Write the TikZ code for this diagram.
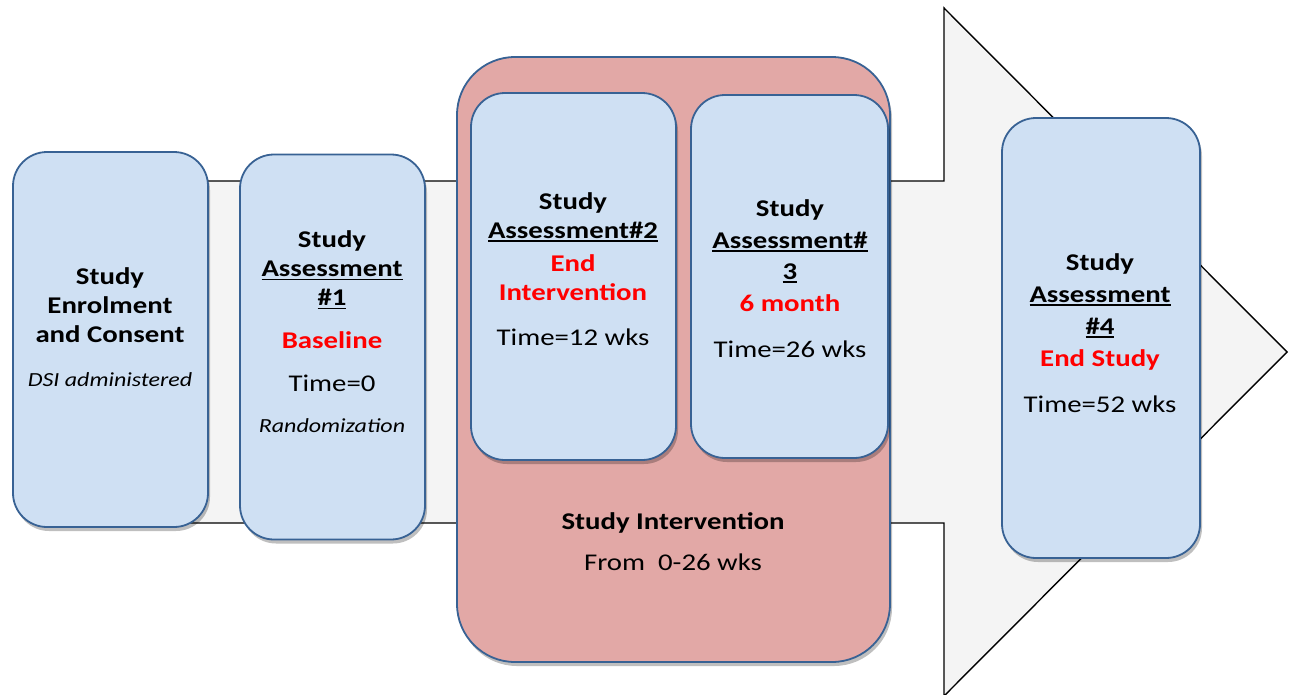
\documentclass[tikz,border=0pt]{standalone}
\usepackage{fontspec}
\setmainfont[FakeStretch=1.2]{Carlito}
\usetikzlibrary{shadows}
\definecolor{cardblue}{RGB}{207,224,243}
\definecolor{cardedge}{RGB}{56,98,148}
\definecolor{interpink}{RGB}{226,168,166}
\definecolor{arrowgrey}{RGB}{244,244,244}
\definecolor{alertred}{RGB}{255,0,0}
\newcommand{\hl}[1]{\textcolor{alertred}{\textbf{#1}}}
\newcommand{\ulbar}[1]{\setbox0\hbox{#1}\rlap{\raisebox{-3.5pt}{\rule{\wd0}{1.6pt}}}\box0}

\begin{document}
\begin{tikzpicture}[
  x=1pt, y=1pt,
  card/.style={rectangle, rounded corners=34pt, draw=cardedge, line width=1.8pt,
    fill=cardblue, inner sep=0pt,
    drop shadow={shadow xshift=2pt, shadow yshift=-4pt, opacity=0.25, fill=black}},
  phase/.style={card, rounded corners=58pt, fill=interpink},
  label/.style={align=center, inner sep=0pt, font=\fontsize{24}{29}\selectfont}
]
\useasboundingbox (0,0) rectangle (1292,-694);

% timeline arrow
\draw[fill=arrowgrey, line width=1.4pt, line join=miter]
  (100,-181) -- (944,-181) -- (944,-8) -- (1287,-352) -- (944,-696)
  -- (944,-523) -- (100,-523) -- cycle;

\node[card, minimum width=195pt, minimum height=375pt] (enrol) at (110.5,-339.5) {};
\node[card, minimum width=185pt, minimum height=385pt] (assess1) at (332.5,-347) {};
\node[phase, minimum width=433pt, minimum height=605pt] (interv) at (673.5,-359.5) {};
\node[card, minimum width=205pt, minimum height=367pt] (assess2) at (573.5,-276.5) {};
\node[card, minimum width=197pt, minimum height=363pt] (assess3) at (789.5,-276.5) {};
\node[card, minimum width=198pt, minimum height=440pt] (assess4) at (1101,-338) {};

\node[label] (enroltxt) at (110,-327) {\textbf{Study}\\ \textbf{Enrolment}\\ \textbf{and Consent}\\[15pt]
  {\fontsize{20}{29}\selectfont\itshape DSI administered}};
\node[label] (assess1txt) at (332,-332) {\textbf{Study}\\ \ulbar{\textbf{Assessment}}\\ \ulbar{\textbf{\#1}}\\[14pt]
  \hl{Baseline}\\[14pt] Time=0\\[12pt] {\fontsize{20}{29}\selectfont\itshape Randomization}};
\node[label] (assess2txt) at (573,-269) {\textbf{Study}\\ \ulbar{\textbf{Assessment\#2}}\\[4pt]
  \hl{End}\\ \hl{Intervention}\\[16pt] Time=12 wks};
\node[label] (assess3txt) at (790,-278.5) {\textbf{Study}\\[3pt] \ulbar{\textbf{Assessment\#}}\\[2pt]
  \ulbar{\textbf{3}}\\[3pt] \hl{6 month}\\[17pt] Time=26 wks};
\node[label] (assess4txt) at (1100,-333) {\textbf{Study}\\[3pt] \ulbar{\textbf{Assessment}}\\[3pt]
  \ulbar{\textbf{\#4}}\\[3pt] \hl{End Study}\\[17pt] Time=52 wks};
\node[label] (intervtxt) at (673,-541.5) {\textbf{Study Intervention}\\[12pt] From~~0-26 wks};

\end{tikzpicture}
\end{document}
